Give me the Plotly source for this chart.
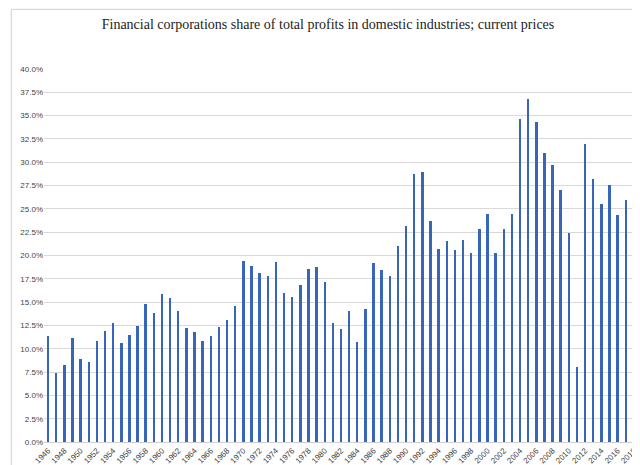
import plotly.graph_objects as go

years = list(range(1946, 2019))
share = [11.4, 7.4, 8.3, 11.1, 8.9, 8.6, 10.8, 11.9, 12.8, 10.6,
         11.5, 12.4, 14.8, 13.8, 15.9, 15.4, 14.1, 12.2, 11.8, 10.8,
         11.4, 12.3, 13.1, 14.6, 19.4, 18.9, 18.1, 17.8, 19.3, 16.0,
         15.6, 16.8, 18.5, 18.8, 17.2, 12.8, 12.1, 14.0, 10.7, 14.3,
         19.2, 18.4, 17.8, 21.0, 23.2, 28.7, 29.0, 23.7, 20.7, 21.6,
         20.6, 21.7, 20.3, 22.8, 24.4, 20.3, 22.8, 24.4, 34.6, 36.8,
         34.3, 31.0, 29.7, 27.0, 22.4, 8.0, 32.0, 28.2, 25.5, 27.6,
         24.3, 26.0, 24.0]
share_frac = [v / 100 for v in share]
ytick_vals = [i * 0.025 for i in range(17)]
xtick_vals = years[::2]

fig = go.Figure(go.Bar(x=years, y=share_frac, marker_color="#3766B8",
                       marker_line_width=0, width=0.3))
fig.update_layout(
    width=640, height=465, autosize=False,
    margin=dict(l=36, r=10, t=61, b=31, autoexpand=False),
    paper_bgcolor="white", plot_bgcolor="white",
    title=dict(text="Financial corporations share of total profits in domestic industries; current prices",
               x=0.5, xanchor="center", y=0.975, yanchor="top",
               font=dict(family="Liberation Serif", size=14, color="#222")),
    font=dict(family="Liberation Sans", size=8, color="#444"),
    showlegend=False, bargap=0,
    shapes=[dict(type="rect", xref="paper", yref="paper", x0=-0.055, x1=1.012,
                 y0=-0.08, y1=1.16, line=dict(color="#d0d0d0", width=1))],
)
fig.update_xaxes(tickmode="array", tickvals=xtick_vals, ticktext=[str(y) for y in xtick_vals],
                 tickangle=-45, range=[1945.5, 2018.5], showgrid=False, automargin=False,
                 showline=True, linecolor="#d0d0d0", ticks="")
fig.update_yaxes(tickmode="array", tickvals=ytick_vals, automargin=False,
                 ticktext=[f"{v*100:.1f}%" for v in ytick_vals],
                 range=[0, 0.4], showgrid=True, gridcolor="#d9d9d9", zeroline=False)
fig.write_html("out.html", config={"responsive": False})
